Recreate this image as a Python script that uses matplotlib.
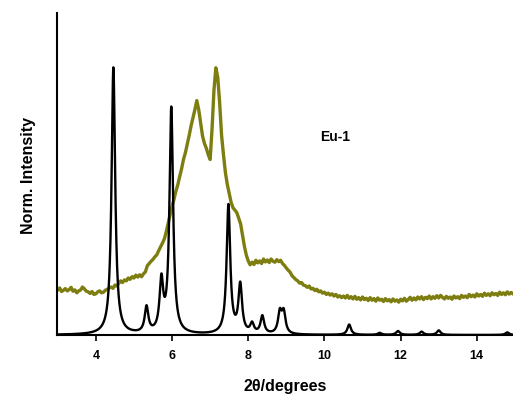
import numpy as np
import matplotlib
matplotlib.use("Agg")
import matplotlib.pyplot as plt

plt.rcParams['font.family'] = ['Liberation Sans', 'DejaVu Sans']

# Simulated pattern: reflection positions (2theta) and relative intensities
sim_positions = [4.46, 5.33, 5.72, 5.98, 7.48, 7.79, 8.10, 8.37, 8.83, 8.93,
                 10.65, 11.45, 11.93, 12.55, 13.00, 14.80]
sim_heights = [0.83, 0.08, 0.155, 0.70, 0.40, 0.15, 0.03, 0.055, 0.065, 0.065,
               0.032, 0.006, 0.012, 0.010, 0.014, 0.008]
sim_hwhm = 0.057

# Measured pattern of Eu-1 (normalised), sampled every 0.05 degrees from 3.00
exp_intensity = [
    .140, .146, .135, .139, .144, .137, .141, .148, .136, .140, .131, .137, .140, .149, .143, .136, .134, .129, .135, .126,
    .128, .134, .137, .131, .133, .139, .142, .146, .149, .145, .155, .152, .160, .168, .163, .171, .168, .177, .173, .181,
    .177, .186, .180, .187, .181, .190, .196, .215, .222, .229, .235, .243, .249, .262, .274, .286, .299, .322, .348, .375,
    .400, .421, .446, .466, .492, .516, .545, .566, .593, .620, .650, .675, .700, .728, .700, .660, .618, .595, .580, .560,
    .545, .640, .760, .830, .800, .720, .620, .560, .505, .468, .440, .412, .395, .388, .380, .362, .345, .310, .275, .248,
    .230, .218, .226, .219, .232, .224, .230, .222, .236, .227, .233, .225, .236, .229, .226, .234, .228, .232, .222, .216,
    .208, .201, .195, .184, .178, .172, .168, .161, .163, .155, .153, .148, .152, .143, .145, .138, .142, .134, .137, .130,
    .133, .126, .130, .124, .128, .121, .126, .118, .122, .116, .121, .115, .123, .114, .119, .112, .120, .111, .116, .109,
    .118, .110, .114, .107, .116, .108, .113, .105, .115, .108, .111, .104, .113, .106, .110, .103, .112, .105, .109, .102,
    .111, .106, .114, .105, .110, .117, .108, .115, .109, .118, .112, .119, .110, .117, .113, .121, .112, .119, .114, .122,
    .115, .123, .117, .112, .120, .114, .118, .111, .121, .115, .119, .113, .123, .117, .121, .116, .126, .119, .124, .118,
    .128, .121, .126, .120, .130, .123, .128, .122, .131, .125, .129, .123, .133, .126, .131, .125, .134, .127, .132, .128,
]
exp_two_theta = np.round(3.0 + 0.05 * np.arange(len(exp_intensity)), 2)

x_ticks = [4, 6, 8, 10, 12, 14]

# Lorentzian profile for the simulated reflections
grid = np.linspace(3.0, 14.95, 3000)
sim_profile = np.zeros_like(grid)
for pos, h in zip(sim_positions, sim_heights):
    sim_profile += h * sim_hwhm**2 / ((grid - pos)**2 + sim_hwhm**2)

fig = plt.figure(figsize=(5.13, 4.02), dpi=100)
ax = fig.add_axes([57 / 513, 66 / 402, 456 / 513, 322 / 402])

ax.plot(exp_two_theta, exp_intensity, color='#7d7d10', lw=2.4)
ax.plot(grid, sim_profile, color='black', lw=1.7)

ax.set_xlim(2.98, 14.95)
ax.set_ylim(0, 1)
ax.set_xticks(x_ticks)
ax.set_xticklabels([str(t) for t in x_ticks], fontsize=9, fontweight='bold')
ax.set_yticks([])
ax.tick_params(axis='x', direction='out', length=4, width=1.2, pad=6)

for side in ('top', 'right'):
    ax.spines[side].set_visible(False)
for side in ('left', 'bottom'):
    ax.spines[side].set_linewidth(1.5)

ax.set_xlabel('2θ/degrees', fontsize=11.5, fontweight='bold', labelpad=12)
ax.set_ylabel('Norm. Intensity', fontsize=11.5, fontweight='bold', labelpad=15)

ax.text(10.28, 0.618, 'Eu-1', fontsize=10, fontweight='bold', ha='center', va='center')

fig.savefig('out.png', dpi=100)
